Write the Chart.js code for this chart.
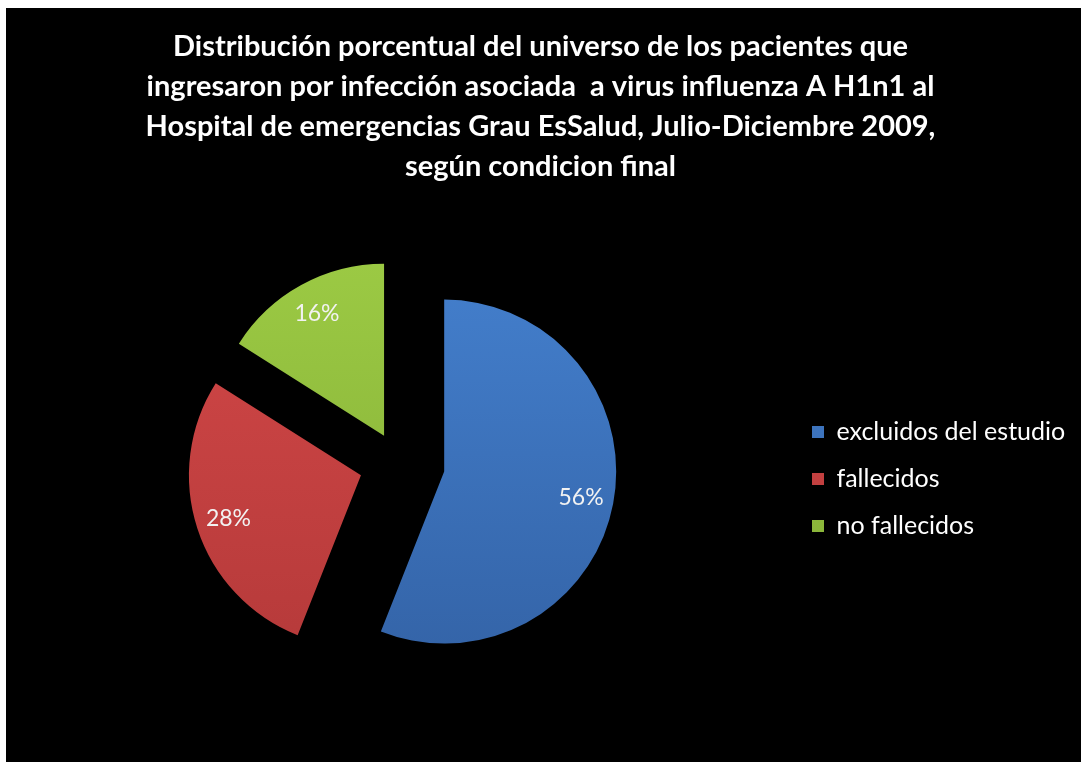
<!DOCTYPE html>
<html>
<head>
<meta charset="utf-8">
<script src="https://cdn.jsdelivr.net/npm/chart.js@4/dist/chart.umd.min.js"></script>
<style>
  html,body{margin:0;padding:0;background:#fff;overflow:hidden}
  #frame{position:absolute;left:6px;top:8px;right:0;bottom:0;background:#000}
  #wrap{position:absolute;left:0;top:0;width:1081px;height:762px}
</style>
</head>
<body>
<div id="frame"></div>
<div id="wrap"><canvas id="pie"></canvas></div>
<script>
// --- Daten ---
const titleLines = [
  'Distribución porcentual del universo de los pacientes que',
  'ingresaron por infección asociada  a virus influenza A H1n1 al',
  'Hospital de emergencias Grau EsSalud, Julio-Diciembre 2009,',
  'según condicion final'
];
const categories = ['excluidos del estudio', 'fallecidos', 'no fallecidos'];
const shares     = [56, 28, 16];
const topColors  = ['#4480CE', '#D34848', '#9CCA44'];
const lowColors  = ['#3464A8', '#B63A3A', '#84AE36'];
const explode    = [46, 40, 31];   // Abstand der Segmente vom Mittelpunkt (px)

// Gradient pro Segment (heller oben, dunkler unten)
function sliceFill(ctx){
  const chart = ctx.chart, i = ctx.dataIndex;
  const a = chart.chartArea;
  if(!a) return topColors[i];
  const g = chart.ctx.createLinearGradient(0, a.top - 40, 0, a.bottom + 20);
  g.addColorStop(0, topColors[i]);
  g.addColorStop(1, lowColors[i]);
  return g;
}

// "Explodierte" Segmente: jedes Segment entlang seiner Mittelachse verschieben
const explodeSlices = {
  id:'explodeSlices',
  beforeDatasetsDraw(chart){
    const a = chart.chartArea;
    const cx = (a.left + a.right)/2, cy = (a.top + a.bottom)/2;
    chart.getDatasetMeta(0).data.forEach((arc,i)=>{
      const mid = (arc.startAngle + arc.endAngle)/2;
      arc.x = cx + Math.cos(mid)*explode[i];
      arc.y = cy + Math.sin(mid)*explode[i];
    });
  }
};

// Prozent-Labels auf den Segmenten
const sliceLabels = {
  id:'sliceLabels',
  afterDatasetsDraw(chart){
    const meta = chart.getDatasetMeta(0);
    const total = shares.reduce((s,v)=>s+v,0);
    const c = chart.ctx;
    c.save();
    c.font = '23px Lato';
    c.fillStyle = '#F2F2F2';
    c.textAlign = 'center';
    c.textBaseline = 'middle';
    meta.data.forEach((arc,i)=>{
      const mid = (arc.startAngle + arc.endAngle)/2;
      const d = arc.outerRadius*0.81;
      c.fillText(Math.round(shares[i]/total*100)+'%', arc.x+Math.cos(mid)*d, arc.y+Math.sin(mid)*d);
    });
    c.restore();
  }
};

new Chart(document.getElementById('pie'), {
  type:'pie',
  data:{
    labels:categories,
    datasets:[{
      data:shares,
      backgroundColor:sliceFill,
      borderWidth:0,
      offset:0,
      hoverOffset:0
    }]
  },
  options:{
    responsive:true,
    maintainAspectRatio:false,
    animation:false,
    events:[],
    layout:{padding:{left:8, right:8, top:0, bottom:127}},
    plugins:{
      tooltip:{enabled:false},
      title:{
        display:true,
        text:titleLines,
        color:'#FFFFFF',
        font:{family:'Lato', size:29, weight:'bold', lineHeight:'40px'},
        padding:{top:27, bottom:104}
      },
      legend:{
        position:'right',
        fullSize:false,
        maxWidth:283,
        title:{display:true, text:'', font:{size:12, lineHeight:'14px'}, padding:{top:0, bottom:18}},
        labels:{
          color:'#FFFFFF',
          boxWidth:12,
          boxHeight:12,
          padding:22,
          font:{family:'Lato', size:25}
        }
      }
    }
  },
  plugins:[explodeSlices, sliceLabels]
});
</script>
</body>
</html>
